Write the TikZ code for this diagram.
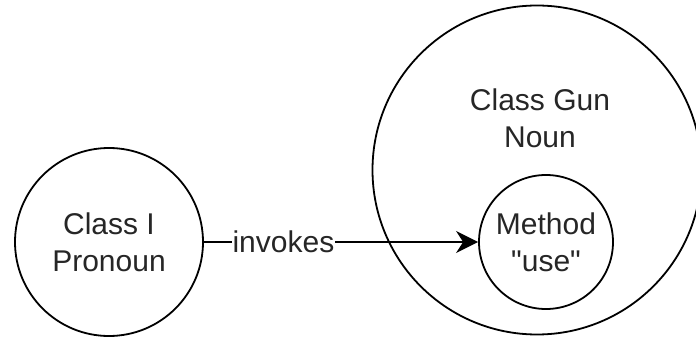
\documentclass[tikz,border=0pt]{standalone}
\usepackage{fontspec}
\setmainfont{Liberation Sans}
\newfontfamily\qfont{Liberation Sans}[Ligatures=TeXOff]
\usetikzlibrary{arrows.meta}
\begin{document}
\begin{tikzpicture}[x=1pt,y=-1pt,
  txt/.style={font=\fontsize{30}{37}\selectfont,text=black!85,align=center},
  circ/.style={circle,draw,line width=1.8pt,inner sep=0pt,txt},
  lbl/.style={fill=white,inner sep=1pt,txt},
  conn/.style={line width=1.8pt,-{Stealth[length=22pt,width=22pt,inset=7pt]}}]
\useasboundingbox (0,0) rectangle (696,339);
\node[circ,minimum size=188pt] (pron) at (109,242) {Class I\\Pronoun};
\node[circ,minimum size=329pt] (gun) at (537,170) {};
\node[txt] (gunlbl) at (540,118) {Class Gun\\Noun};
\node[circ,minimum size=134pt] (use) at (546,242) {Method\\{\qfont "use"}};
\draw[conn] (pron) -- node[lbl,pos=0.29] (inv) {invokes} (use);
\end{tikzpicture}
\end{document}
